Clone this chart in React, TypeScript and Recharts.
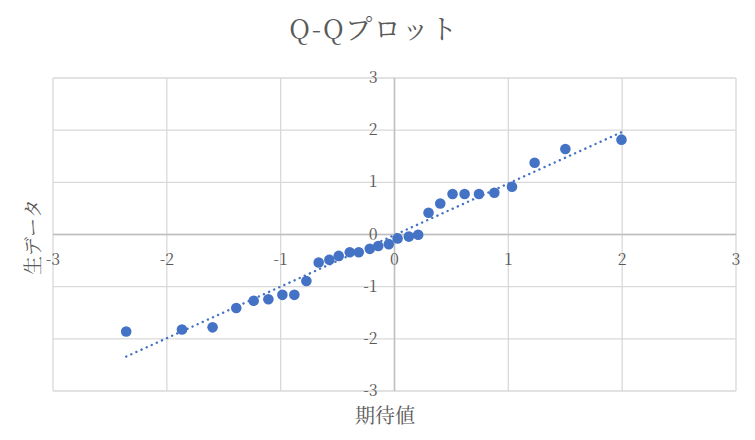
import React from 'react';
import {
  ScatterChart,
  Scatter,
  XAxis,
  YAxis,
  CartesianGrid,
  ReferenceLine,
} from 'recharts';

// 期待値 (理論分位点)
const expected = [
  -2.357, -1.867, -1.598, -1.39, -1.237, -1.108, -0.985, -0.88, -0.774, -0.666,
  -0.572, -0.49, -0.393, -0.314, -0.217, -0.143, -0.05, 0.027, 0.126, 0.208,
  0.299, 0.402, 0.51, 0.616, 0.742, 0.877, 1.032, 1.231, 1.501, 1.994,
];
// 生データ (標準化済み)
const rawData = [
  -1.86, -1.82, -1.78, -1.41, -1.27, -1.24, -1.157, -1.157, -0.89, -0.537,
  -0.486, -0.41, -0.34, -0.34, -0.275, -0.22, -0.185, -0.075, -0.04, -0.006,
  0.417, 0.595, 0.775, 0.775, 0.775, 0.8, 0.915, 1.376, 1.64, 1.818,
];
// 近似直線の両端
const trendX = [-2.357, 1.994];
const trendY = [-2.34, 1.96];

const ticks = [-3, -2, -1, 0, 1, 2, 3];

const W = 755;
const H = 440;
const AXIS = 20;
// 軸の分を差し引いて、プロット領域が 53..736 x 78..391 になるようにする
const margin = { top: 78, right: 19, bottom: 49 - AXIS, left: 53 - AXIS };
const plotW = W - 53 - margin.right;
const plotH = H - margin.top - 49;
const zeroX = 53 + plotW / 2;
const zeroY = margin.top + plotH / 2;

const FONT = "'Noto Serif CJK JP', serif";
const TEXT = '#595959';
const BLUE = '#4472C4';

const points = expected.map((x, i) => ({ x, y: rawData[i] }));
const trend = trendX.map((x, i) => ({ x, y: trendY[i] }));

const XTick = ({ x, payload }: any) => (
  <text x={x} y={zeroY + 30} textAnchor="middle" fill={TEXT} fontSize={16} fontFamily={FONT}>
    {payload.value}
  </text>
);

const YTick = ({ y, payload }: any) => (
  <text x={zeroX - 17} y={y + 5} textAnchor="end" fill={TEXT} fontSize={16} fontFamily={FONT}>
    {payload.value}
  </text>
);

export default function App() {
  return (
    <div style={{ position: 'relative', width: W, height: H, fontFamily: FONT }}>
      <style>{`body{margin:0}`}</style>
      <div
        style={{
          position: 'absolute',
          top: 28,
          left: 374,
          transform: 'translate(-50%, -50%)',
          fontSize: 27,
          lineHeight: '30px',
          letterSpacing: 1.5,
          color: TEXT,
          whiteSpace: 'nowrap',
        }}
      >
        Q-Qプロット
      </div>
      <div
        style={{
          position: 'absolute',
          top: 415,
          left: 385,
          transform: 'translate(-50%, -50%)',
          fontSize: 20,
          lineHeight: '20px',
          color: TEXT,
          whiteSpace: 'nowrap',
        }}
      >
        期待値
      </div>
      <div
        style={{
          position: 'absolute',
          left: 32,
          top: 237,
          transform: 'translate(-50%, -50%) rotate(-90deg)',
          fontSize: 19,
          lineHeight: '20px',
          color: TEXT,
          whiteSpace: 'nowrap',
        }}
      >
        生データ
      </div>
      <ScatterChart width={W} height={H} margin={margin}>
        <CartesianGrid stroke="#d9d9d9" strokeWidth={1.3} />
        <XAxis
          type="number"
          dataKey="x"
          domain={[-3, 3]}
          ticks={ticks}
          height={AXIS}
          axisLine={false}
          tickLine={false}
          tick={<XTick />}
          interval={0}
          allowDataOverflow
        />
        <YAxis
          type="number"
          dataKey="y"
          domain={[-3, 3]}
          ticks={ticks}
          width={AXIS}
          axisLine={false}
          tickLine={false}
          tick={<YTick />}
          interval={0}
          allowDataOverflow
        />
        <ReferenceLine x={0} stroke="#bfbfbf" strokeWidth={1.5} />
        <ReferenceLine y={0} stroke="#bfbfbf" strokeWidth={1.5} />
        <Scatter
          data={trend}
          isAnimationActive={false}
          line={{ stroke: BLUE, strokeWidth: 2.4, strokeDasharray: '0.1 5.5', strokeLinecap: 'round' }}
          shape={() => null}
        />
        <Scatter
          data={points}
          isAnimationActive={false}
          shape={(p: any) => <circle cx={p.cx} cy={p.cy} r={5.3} fill={BLUE} />}
        />
      </ScatterChart>
    </div>
  );
}
